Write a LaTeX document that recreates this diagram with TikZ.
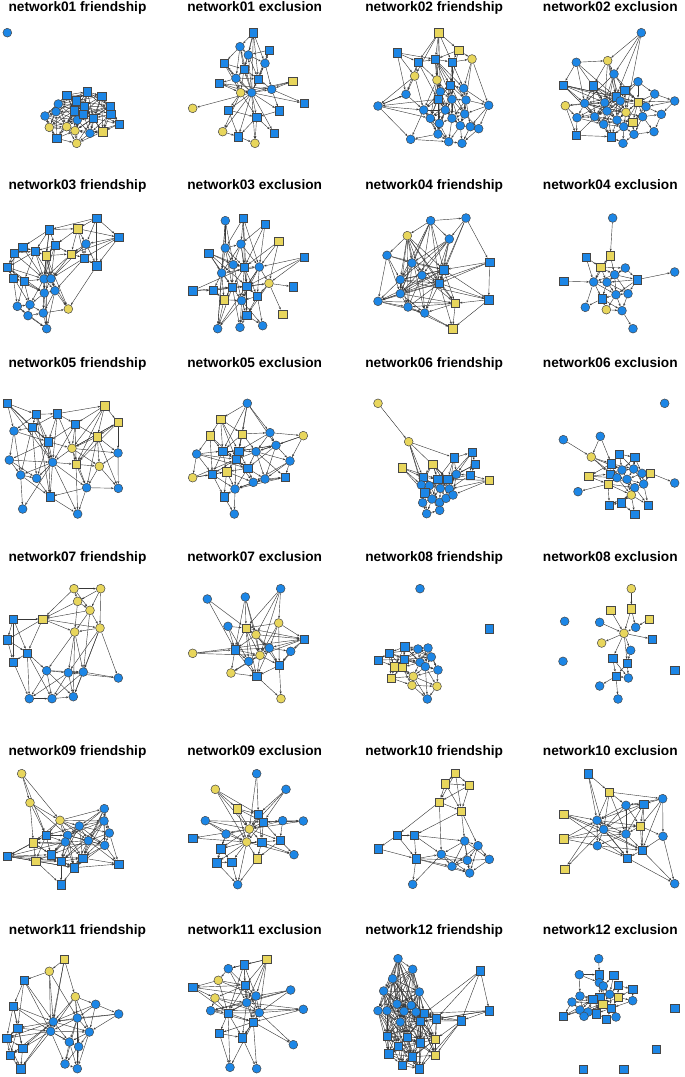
\documentclass[tikz,border=0pt]{standalone}
\usepackage{fontspec}
\setmainfont{Liberation Sans}
\usetikzlibrary{arrows.meta}
\definecolor{nblue}{RGB}{28,134,230}
\definecolor{nyel}{RGB}{232,214,92}
\definecolor{nbord}{RGB}{70,70,70}
\pgfdeclarelayer{bg}
\pgfsetlayers{bg,main}
\newcommand\netw[3]{%
  \foreach \px/\py/\ps [count=\i] in {#2}{\node[\ps] (#1-\i) at (\px,\py) {};}
  \begin{pgfonlayer}{bg}
  \foreach \a/\bl in {#3}{\foreach \b in \bl {\draw[lnk] (#1-\a) -- (#1-\b);}}
  \end{pgfonlayer}}
\tikzset{
  nd/.style={draw=nbord, line width=0.5pt, inner sep=0pt},
  bc/.style={nd, circle, fill=nblue, minimum size=8.8pt},
  yc/.style={nd, circle, fill=nyel, minimum size=8.8pt},
  bs/.style={nd, rectangle, fill=nblue, minimum size=8.2pt},
  ys/.style={nd, rectangle, fill=nyel, minimum size=8.2pt},
  lnk/.style={draw=black!78, line width=0.42pt, -{Stealth[length=2.6pt,width=2pt]}},
  ttl/.style={anchor=base, font=\fontsize{13.7}{16}\selectfont\bfseries, inner sep=0pt}
}
\begin{document}
\begin{tikzpicture}[x=1pt,y=-1pt]
\useasboundingbox (0,0) rectangle (685,1077);
% titles
\node[ttl] (t01f) at (77.5,11.3) {network01 friendship};
\node[ttl] (t01e) at (254.7,11.3) {network01 exclusion};
\node[ttl] (t02f) at (434.2,11.3) {network02 friendship};
\node[ttl] (t02e) at (610.3,11.3) {network02 exclusion};
\node[ttl] (t03f) at (77.5,189) {network03 friendship};
\node[ttl] (t03e) at (254.7,189) {network03 exclusion};
\node[ttl] (t04f) at (434.2,189) {network04 friendship};
\node[ttl] (t04e) at (610.3,189) {network04 exclusion};
\node[ttl] (t05f) at (77.5,367) {network05 friendship};
\node[ttl] (t05e) at (254.7,367) {network05 exclusion};
\node[ttl] (t06f) at (434.2,367) {network06 friendship};
\node[ttl] (t06e) at (610.3,367) {network06 exclusion};
\node[ttl] (t07f) at (77.5,561) {network07 friendship};
\node[ttl] (t07e) at (254.7,561) {network07 exclusion};
\node[ttl] (t08f) at (434.2,561) {network08 friendship};
\node[ttl] (t08e) at (610.3,561) {network08 exclusion};
\node[ttl] (t09f) at (77.5,755) {network09 friendship};
\node[ttl] (t09e) at (254.7,755) {network09 exclusion};
\node[ttl] (t10f) at (434.2,755) {network10 friendship};
\node[ttl] (t10e) at (610.3,755) {network10 exclusion};
\node[ttl] (t11f) at (77.5,934) {network11 friendship};
\node[ttl] (t11e) at (254.7,934) {network11 exclusion};
\node[ttl] (t12f) at (434.2,934) {network12 friendship};
\node[ttl] (t12e) at (610.3,934) {network12 exclusion};

% ===== row 1 =====
\begin{scope}[shift={(0,0)},x=0.33333pt,y=-0.33333pt]
\netw{A1}{22/98/bc, 200/285/bs, 262/275/bs, 305/288/bs, 228/302/bs, 252/320/bs, 222/332/bs, 330/318/bs, 332/342/bs, 280/355/bs, 358/372/bs, 170/415/bs, 308/395/ys, 175/312/bc, 168/335/bc, 135/348/bc, 232/360/bc, 250/342/bs, 270/400/bc, 148/382/yc, 200/380/yc, 225/392/yc, 230/430/yc}
{2/{3,5,14,7,6,4,10,17,18,15,16}, 3/{4,5,6,8,10,18,7,9,14,17}, 4/{6,8,9,10,11,5,13,18,19}, 5/{6,7,14,15,17,18,10,20,21,8}, 6/{7,8,10,17,18,9,13,11,14,21,22}, 7/{14,15,16,17,21,20,10,18,22,12}, 8/{9,10,11,13,17,18,22}, 9/{10,11,13,19}, 10/{11,13,17,18,19,22}, 11/{13,19}, 12/{20,21,22,16,15,23}, 13/{19,22,23}, 14/{15,16,20,17,18,21}, 15/{16,20,21,17}, 16/{20,21,17}, 17/{18,21,22,19}, 18/{19,22}, 19/{22,23}, 20/{21,17,22}, 21/{22,23}, 22/{23}, 23/{17,10}}
\netw{B1}{760/98/bs, 720/140/bc, 808/150/bs, 745/165/bc, 672/190/bs, 795/190/bc, 732/208/bs, 708/235/bc, 775/237/bs, 658/250/bs, 878/244/ys, 722/278/yc, 755/278/bc, 815/268/bc, 578/325/yc, 685/330/bs, 838/332/bs, 912/310/bs, 770/352/bs, 668/395/yc, 715/410/bs, 822/400/bs, 765/430/yc}
{13/{1,2,3,4,5,6,7,8,9,10,11,12,14,16,17,18,19,20,21,22,23,15}, 1/{2,4,6,9,7}, 2/{4,5,7,8}, 3/{4,6}, 4/{6,7,9}, 5/{7,8,12}, 6/{9,14}, 7/{8,9,12}, 8/{10,12,9}, 10/{12,14}, 11/{14,12}, 12/{16,19,20}, 14/{17,18,9}, 16/{19,21}, 19/{21,23,22}, 20/{21}, 21/{23}, 17/{19}}
\end{scope}
\begin{scope}[shift={(342,0)},x=0.33333pt,y=-0.33333pt]
\netw{C1}{290/98/ys, 165/158/bs, 350/150/ys, 228/186/bs, 280/178/bs, 330/186/bs, 390/177/yc, 218/228/yc, 285/240/yc, 325/256/bs, 365/265/bc, 295/275/bc, 192/283/bc, 288/298/bs, 330/298/bc, 372/300/bc, 108/318/bc, 440/316/bc, 245/330/bc, 310/330/bc, 368/342/bc, 265/355/bc, 330/355/bc, 292/370/bc, 385/380/bc, 410/386/bc, 355/377/bc, 288/402/bc, 206/418/bc, 320/425/bc, 360/430/bc}
{1/{4,5,6,3,9,8,12}, 2/{4,8,5,13}, 3/{5,6,7,10}, 4/{5,8,9,13,14}, 5/{6,9,10,12,14,15,11,16}, 6/{7,10,11,15}, 7/{11,18,16}, 8/{13,17,19}, 9/{12,14,19,20,15,22,24}, 10/{11,12,15,16,20,14,21,23}, 11/{16,18,21}, 12/{14,15,20,22,19,23,24}, 13/{17,19}, 14/{19,20,22,24,17,23,28}, 15/{16,20,21,23,22,24,27}, 16/{18,21,25,23,27}, 17/{19,22,29,13}, 18/{21,25,26}, 19/{22,28,29,24,20,30}, 20/{23,24,27,22,28,21}, 21/{23,27,26}, 22/{24,28}, 23/{24,27,30}, 24/{28,30}, 25/{26,27,31}, 26/{31}, 27/{31,30}, 28/{30,29}, 30/{31}, 29/{30}}
\netw{D1}{898/98/bc, 703/187/bc, 797/182/yc, 816/222/bc, 663/255/bs, 753/257/bs, 888/245/bc, 848/270/bs, 822/290/bs, 938/282/bc, 998/303/bc, 728/310/bc, 788/308/bc, 888/306/ys, 670/317/yc, 835/303/bc, 795/333/bc, 852/337/yc, 912/320/bc, 705/353/bc, 758/350/bc, 825/360/bc, 872/367/ys, 902/350/bc, 958/343/bc, 785/373/bc, 845/380/bc, 703/406/bs, 808/410/bs, 876/403/bc, 936/395/bc, 843/430/bc}
{1/{3,4,9,18}, 2/{3,12,5,13,16}, 3/{4,6,9,13,16}, 4/{9,13,8,17,12,14}, 5/{12,13,16,21,14,9}, 6/{9,13,12,17,16,21,18}, 7/{8,14,10,16}, 8/{9,14,16,18,19}, 9/{13,16,17,18,22,12,21,14}, 10/{11,14,19}, 11/{14,19,25}, 12/{13,15,20,21,18,24,26,17}, 13/{16,17,21,26,18,22,20}, 14/{16,18,19,23,24,22,27}, 15/{20,28,13}, 16/{17,18,22,21,26,19}, 17/{18,21,22,26,27,29,20}, 18/{22,23,27}, 19/{24,25,23}, 20/{21,28,26}, 21/{26,29,22,27}, 22/{26,27,29,23}, 23/{27,30,24}, 24/{25,31,30}, 25/{31}, 26/{29,27}, 27/{29,32,30}, 28/{29,9}, 29/{32}, 30/{32,31}}
\end{scope}

% ===== row 2 =====
\begin{scope}[shift={(0,178)},x=0.33333pt,y=-0.33333pt]
\netw{A2}{290/120/bs, 148/155/bs, 233/152/ys, 356/178/bs, 68/207/bs, 165/202/bs, 258/198/bc, 42/225/bs, 105/220/bs, 138/233/ys, 213/228/ys, 253/240/bs, 290/263/bs, 22/268/bs, 40/300/bs, 72/310/bs, 132/303/bc, 153/302/bc, 165/338/bc, 133/345/bc, 52/385/bc, 90/380/bc, 205/393/yc, 84/413/bc, 130/405/bc, 140/452/bc}
{1/{3,4,7,13,2}, 2/{3,5,6,9,10,17}, 3/{4,6,7,11,12}, 4/{7,13,12,11}, 5/{8,9,10,14,17}, 6/{9,10,11,17,18}, 7/{11,12,13,18}, 8/{9,14,15,17}, 9/{10,14,16,17,18}, 10/{11,17,18,19,20,23,26}, 11/{12,17,18}, 12/{13,18,19}, 13/{23}, 14/{15,16,17,22,20}, 15/{16,21,20}, 16/{17,20,22,21}, 17/{18,19,20,22,25}, 18/{19,20,23}, 19/{20,23,25,26}, 20/{22,25,26}, 21/{22,24,26}, 22/{24,25}, 24/{25,26}, 25/{26,23}}
\netw{B2}{676/128/bc, 730/120/bs, 795/138/bs, 836/190/ys, 676/210/bc, 723/198/bc, 626/225/bs, 912/238/bs, 700/260/bc, 733/268/bs, 778/267/bc, 665/285/bc, 807/316/yc, 880/326/bs, 578/338/bs, 640/337/bs, 697/327/bs, 740/325/bs, 672/365/ys, 772/355/bs, 725/368/bc, 740/412/bs, 848/408/ys, 653/452/bc, 720/448/bc, 788/443/bc}
{1/{5,9,12,24}, 2/{5,6,10,11,18}, 3/{6,11,10}, 4/{11,13,10}, 5/{6,9,10,12,17}, 6/{10,11,9,18,12}, 7/{9,12,17,18,10}, 8/{11,13,18}, 9/{10,12,17,21}, 10/{11,17,18,20,21}, 11/{13,18,20,21,12,24}, 12/{16,17,19,24}, 13/{14,18,20,23,22}, 15/{16,17,10}, 16/{17,19,18}, 17/{18,19,21,24,25}, 18/{20,21,22,25,13}, 19/{21,24}, 20/{21,22,26}, 21/{22,24,25,26}, 22/{25,26}}
\end{scope}
\begin{scope}[shift={(342,178)},x=0.33333pt,y=-0.33333pt]
\netw{C2}{266/128/bc, 372/120/bc, 196/173/yc, 322/183/bc, 135/232/bc, 210/255/bc, 443/252/bs, 305/275/bs, 240/292/bc, 175/305/bc, 292/316/bs, 175/347/bc, 108/370/bc, 440/365/bs, 340/376/ys, 198/387/bc, 248/405/bc, 332/452/ys}
{1/{2,3,4,6,8,9,10,11,12}, 2/{4,8,7,11}, 3/{5,6,8,9,10,11,12,16,17,15}, 4/{6,8,9,10,11,12,17}, 5/{6,8,10,13,12}, 6/{8,9,10,11,12,16}, 7/{8,11,14,13}, 8/{9,10,11,12,13,15,14}, 9/{10,11,12,16,17,15}, 10/{11,12,13,16,14}, 11/{12,13,15,16,17,18,14}, 12/{13,16,17,15}, 13/{16,17,15}, 14/{15,18}, 15/{16,17,18}, 16/{17,18}, 17/{18}}
\netw{D2}{812/120/bc, 805/233/ys, 732/238/bs, 776/268/ys, 850/270/bc, 818/290/bc, 885/305/bs, 998/282/bc, 665/310/bs, 755/312/bc, 795/313/bc, 822/350/bc, 858/347/bc, 780/362/bs, 730/388/bc, 793/395/yc, 840/398/bc, 873/452/bc}
{1/{2}, 2/{4,6,10}, 3/{10,4}, 4/{10,11,6,5}, 5/{6,7,11}, 6/{7,11,12,13,10}, 7/{8,13,12,11}, 9/{10}, 10/{11,14,15,12}, 11/{12,14,13}, 12/{13,14,17,16}, 13/{17}, 14/{15,16,17}, 16/{17}, 17/{18}}
\end{scope}

% ===== row 3 =====
\begin{scope}[shift={(0,355)},x=0.33333pt,y=-0.33333pt]
\netw{A3}{22/145/bs, 108/178/bs, 172/176/bs, 314/152/ys, 354/202/ys, 96/217/bs, 226/207/bs, 42/228/bc, 292/245/ys, 145/260/bs, 216/280/yc, 354/294/bc, 28/315/bc, 158/322/bc, 228/328/ys, 298/334/yc, 62/360/bc, 110/370/bc, 260/398/bc, 355/400/bc, 150/425/bs, 68/462/bc, 233/477/bc}
{1/{2,6,8,10,14}, 2/{3,6,10,8,14,21}, 3/{4,7,6,10,14,11}, 4/{5,9,7,11,15}, 5/{9,12,11,15}, 6/{8,10,14,17,18}, 7/{10,11,9,15,14}, 8/{13,10,17}, 9/{11,15,16,12,19,20}, 10/{11,14,13,18,21}, 11/{14,15,19,12,16,5}, 12/{16,20}, 13/{14,17,18}, 14/{15,17,18,19,21,22,23}, 15/{16,19,23}, 16/{19,20}, 17/{18,21,22}, 18/{21}, 19/{20,21,23}, 21/{23}}
\netw{B3}{742/145/bc, 662/192/ys, 630/242/ys, 727/237/ys, 810/233/bc, 910/242/yc, 590/297/bc, 668/288/bs, 716/288/bs, 768/290/bc, 828/271/bc, 708/313/bs, 870/318/bc, 743/340/bs, 578/368/yc, 637/358/bs, 680/350/ys, 760/382/bc, 795/372/bc, 855/367/bs, 705/402/bc, 672/425/bs, 703/477/bc}
{1/{2,4,8,9,11,5}, 2/{3,8,9,12,4}, 3/{7,8,12,16}, 4/{8,9,10,12,5}, 5/{6,11,10,9}, 6/{11,13,10}, 7/{8,12,16,15,14}, 8/{9,12,16,17,14}, 9/{10,12,14,11}, 10/{11,12,14,13,19,20}, 11/{13,14,19,9}, 12/{14,16,17,21,18}, 13/{20,19,18}, 14/{17,18,19,21}, 15/{16,17,12}, 16/{17,22,21}, 17/{21,22,18}, 18/{19,21,20}, 19/{20,21}, 20/{21}, 21/{22,23}, 22/{23}}
\end{scope}
\begin{scope}[shift={(342,355)},x=0.33333pt,y=-0.33333pt]
\netw{C3}{108/145/yc, 200/260/yc, 180/338/ys, 272/327/ys, 336/308/bs, 390/292/bs, 400/328/bs, 384/360/bs, 441/376/ys, 243/367/bs, 287/372/bs, 317/373/bs, 343/358/bc, 238/390/bc, 262/392/bc, 295/400/bc, 322/402/bc, 248/413/bs, 270/432/bc, 293/442/bc, 312/430/bc, 333/420/bc, 242/443/bc, 254/476/bc, 293/466/bc}
{1/{2}, 2/{5,10,14,18,12}, 3/{10,14,18,11}, 4/{10,11,12,14,16,17}, 5/{6,12,13,11,17}, 6/{7,8,13,12}, 7/{8,13,12}, 8/{13,12,9,17}, 9/{12,17,22}, 10/{11,14,15,18,16}, 11/{12,15,16,17,19}, 12/{13,16,17,21,22}, 13/{17,22}, 14/{15,18,23}, 15/{16,18,19,20}, 16/{17,19,20,21}, 17/{21,22}, 18/{19,23,24}, 19/{20,23,24,25}, 20/{21,25}, 21/{22,25}, 23/{24}, 24/{25}}
\netw{D3}{968/145/bc, 664/254/bc, 775/244/bc, 748/306/yc, 832/297/bs, 878/307/bs, 808/326/bs, 840/345/bc, 875/342/bc, 900/355/bc, 925/354/ys, 740/364/ys, 804/357/bs, 825/368/bc, 855/373/bc, 798/387/ys, 905/387/bc, 878/398/bc, 998/384/bc, 708/410/bc, 868/420/yc, 802/450/bs, 838/443/bs, 918/450/bs, 878/478/bs}
{2/{4}, 3/{4,7}, 4/{7,13,8,14}, 5/{7,8,9,6}, 6/{9,10,8}, 7/{8,13,14,9,12}, 8/{9,13,14,15}, 9/{10,15,17,6}, 10/{11,17,15}, 11/{17,19}, 12/{13,16,14}, 13/{14,16,15}, 14/{15,16,18,21}, 15/{17,18,21}, 16/{18,20,22,21}, 17/{18,24}, 18/{21,23,24}, 21/{22,23,25,24}, 22/{23}, 23/{25}}
\end{scope}

% ===== row 4 =====
\begin{scope}[shift={(0,548)},x=0.33333pt,y=-0.33333pt]
\netw{A4}{222/122/yc, 302/122/yc, 233/160/yc, 270/187/yc, 40/213/bs, 128/213/ys, 300/240/yc, 224/252/yc, 22/275/bs, 82/315/bs, 40/342/bs, 140/368/bc, 205/374/bc, 250/372/bc, 355/390/bc, 88/452/bc, 156/452/bc, 220/446/bc}
{1/{2,3,4,6}, 2/{3,4,7}, 3/{4,6,8}, 4/{7,8,6,14}, 5/{6,9,10,11}, 6/{8,10,9,7}, 7/{8,13,14,15,18}, 8/{12,13,14,18}, 9/{10,11}, 10/{11,12,16,17}, 11/{16}, 12/{13,14,16,17,18}, 13/{14,17,18,16}, 14/{15,17,18}, 15/{13}, 16/{17}, 17/{18}}
\netw{B4}{842/122/bc, 622/153/bc, 736/147/bc, 836/225/yc, 684/235/bc, 738/240/ys, 768/260/yc, 912/273/bs, 578/316/yc, 705/305/bs, 808/300/bc, 872/310/bc, 780/322/yc, 746/340/bc, 838/352/bs, 693/375/yc, 770/385/bs, 843/452/yc}
{1/{6,4,7,13}, 2/{6,10}, 3/{6,7,10,13}, 4/{8,6,11,15,13}, 5/{6,10,14}, 6/{7,10,11,13,14,17,8}, 7/{8,11,13,15,10}, 8/{11,12,15,13}, 9/{10,13,8}, 10/{13,14,16,17,11}, 11/{12,13,15,17}, 12/{15}, 13/{14,15,17,16}, 14/{16,17}, 15/{17,18}, 16/{17}, 17/{18}}
\end{scope}
\begin{scope}[shift={(342,548)},x=0.33333pt,y=-0.33333pt]
\netw{C4}{234/122/bc, 442/242/bs, 188/296/bs, 142/315/bs, 108/336/bs, 186/334/bs, 228/303/bc, 258/300/bc, 268/327/bc, 234/343/bc, 250/356/bc, 288/366/bc, 158/356/ys, 181/358/ys, 147/390/ys, 214/385/yc, 210/412/yc, 285/415/yc, 256/453/bc}
{3/{4,6,7,8,13,14,10,9,11}, 4/{5,6,13,14,15,7,10}, 5/{13,6}, 6/{7,9,10,13,14,11,8,12}, 7/{8,9,10,11}, 8/{9,10,12,11}, 9/{10,11,12}, 10/{11,14,16}, 11/{12,16,18,19}, 12/{18,16}, 13/{14,15,16}, 14/{15,16,17}, 15/{17,16}, 16/{17,18,19}, 17/{18,19}, 18/{19}}
\netw{D4}{868/122/yc, 668/220/bc, 806/187/ys, 868/182/ys, 922/213/ys, 773/223/bc, 881/238/bc, 846/256/yc, 931/273/bs, 779/285/yc, 866/307/bc, 663/340/bc, 812/330/bs, 856/346/bs, 998/367/bs, 822/384/bs, 859/390/bc, 773/414/bc, 828/453/bc}
{1/{4}, 3/{8}, 4/{8,7}, 5/{7}, 6/{8}, 7/{8}, 8/{9,10,11,13,14}, 11/{14}, 13/{16,17}, 14/{16,17}, 16/{17,18,19}}
\end{scope}

% ===== row 5 =====
\begin{scope}[shift={(0,742)},x=0.33333pt,y=-0.33333pt]
\netw{A5}{65/95/yc, 90/182/yc, 180/235/yc, 313/200/bc, 312/237/bc, 238/252/bc, 328/273/bc, 138/280/bs, 203/280/bc, 265/296/bc, 196/300/bc, 314/310/bc, 100/302/ys, 22/343/bs, 153/338/bs, 107/357/ys, 183/358/bs, 248/348/bs, 223/377/bs, 356/366/bs, 183/428/bs}
{1/{2,3,8}, 2/{3,8,13,9}, 3/{4,5,6,8,9,11,10,12,13}, 4/{5,6,7,10,12,18,11}, 5/{6,7,10,12,9,18,17}, 6/{7,9,10,11,12,18,15,17,8}, 7/{10,12,20,18}, 8/{9,11,13,14,15,16}, 9/{10,11,15,17,18,12,19}, 10/{11,12,17,18,19,20,15}, 11/{15,17,18,13,19,14}, 12/{18,20,19,13}, 13/{14,15,16,17}, 14/{15,16,17,19,18}, 15/{16,17,19}, 16/{17,19,21}, 17/{18,19,21}, 18/{19,20}, 19/{20,21}}
\netw{B5}{770/95/bc, 646/142/yc, 858/142/bc, 712/200/ys, 775/217/bs, 790/240/bs, 616/236/bc, 848/236/bc, 910/237/bc, 748/261/yc, 678/276/bc, 578/288/bs, 740/300/yc, 785/300/bs, 840/295/bs, 662/320/bs, 882/338/bc, 772/350/ys, 650/362/bs, 695/360/bs, 713/428/bc}
{1/{5,10}, 2/{4,10,5,13}, 3/{5,6,10}, 4/{5,10,13,6}, 5/{6,10,13,14}, 6/{8,9,10,14,13,15}, 7/{10,11,13,6}, 8/{9,10,15}, 9/{10,6}, 10/{11,13,14,15,16,12}, 11/{13,16,19}, 12/{13}, 13/{14,16,18,19,20,21,17}, 14/{15,18,17}, 15/{17,18}, 16/{19,20}, 18/{21}, 19/{21,20}, 20/{21}}
\end{scope}
\begin{scope}[shift={(342,742)},x=0.33333pt,y=-0.33333pt]
\netw{C5}{340/93/ys, 310/125/ys, 382/130/ys, 292/180/ys, 358/207/ys, 165/280/bs, 217/280/bs, 108/320/bs, 222/350/bs, 368/297/bc, 408/311/bc, 298/337/bc, 442/352/bc, 376/355/bc, 330/373/bc, 383/393/bc, 212/427/bc}
{1/{2,3,4,5}, 2/{3,4,5}, 3/{5,4}, 4/{5,6,12}, 5/{10,11,7}, 6/{7,8,9}, 7/{9,12,10}, 8/{9}, 9/{12,14,15,16,17}, 10/{11,12,14,15,13,16}, 11/{13,14,16,15}, 12/{14,15,17,16}, 13/{14,16}, 14/{15,16}, 15/{16}}
\netw{D5}{738/95/bs, 802/150/ys, 962/170/bc, 852/190/bc, 905/186/bs, 665/216/ys, 765/235/bc, 785/262/bc, 895/252/ys, 852/276/bc, 963/283/bc, 665/290/ys, 766/311/bc, 900/325/bs, 856/348/bs, 668/381/ys, 998/425/bc}
{1/{2,7,8}, 2/{3,4,7,8,10}, 3/{5,11,4,14,9}, 4/{5,7,8,10,9,15}, 5/{9,8,10,14,7}, 6/{7,8,14,15}, 7/{8,13,9,10,15,16}, 8/{9,10,13,14,15,16}, 9/{10,14,11}, 10/{14,15,13}, 11/{14,17}, 12/{7,13,8,10}, 13/{15,14}, 14/{15,17}, 15/{17}}
\end{scope}

% ===== row 6 =====
\begin{scope}[shift={(0,922)},x=0.33333pt,y=-0.33333pt]
\netw{A6}{193/112/ys, 148/148/yc, 72/175/bs, 226/224/yc, 40/252/bs, 287/247/bc, 356/276/bc, 232/288/bc, 160/299/bc, 53/318/bs, 152/328/bc, 268/330/bc, 20/348/bs, 68/378/bs, 208/360/bc, 236/374/bc, 30/400/bs, 195/426/bc, 62/440/bs, 232/440/bc}
{1/{2,4,9,11}, 2/{3,9,11,8}, 3/{5,9,10,11}, 4/{6,8,9,11,12,16}, 5/{10,13,9,11,14}, 6/{7,8,12,9}, 7/{8,12,9}, 8/{9,11,12,15,16,18,20}, 9/{10,11,12,13,14,15,17,19}, 10/{13,14,17,11}, 11/{12,13,14,15,16,18,19}, 12/{15,16,20}, 13/{14,17,19}, 14/{17,19}, 15/{16,18,20}, 16/{18,20}, 17/{19}, 18/{20}}
\netw{B6}{800/112/ys, 732/128/bs, 685/140/bc, 655/175/yc, 735/190/bs, 578/196/bs, 872/204/bc, 645/228/yc, 768/222/bc, 740/242/bc, 632/266/bc, 684/273/bs, 778/272/bc, 910/262/bc, 760/300/bs, 658/334/bs, 727/347/bs, 880/368/bc, 690/436/bc, 770/440/bc}
{1/{2,3,5,9,10,13}, 2/{3,5,9,10,12}, 3/{5,10,4}, 4/{6,5,9,12}, 5/{6,8,9,10,12,13,15}, 6/{8,9,12}, 7/{9,10,13,11}, 8/{10,11,12,13}, 9/{10,12,13,15}, 10/{11,12,13,15,17}, 11/{12,15,14}, 12/{13,15,16,17,19}, 13/{14,15,17,18}, 14/{15,10}, 15/{16,17,18,20,19}, 16/{17,19}, 17/{20}}
\end{scope}
\begin{scope}[shift={(342,922)},x=0.33333pt,y=-0.33333pt]
\netw{C6}{168/110/bc, 212/142/bc, 152/170/bc, 125/207/bc, 232/210/bc, 108/266/bc, 135/266/bc, 165/246/bc, 186/268/bc, 208/250/bc, 222/270/bc, 247/274/bs, 175/300/bc, 235/298/bs, 283/290/bs, 415/146/bs, 442/266/bs, 358/296/bs, 135/343/bs, 195/345/bs, 235/362/bs, 280/352/ys, 168/372/bs, 140/395/bs, 210/404/bs, 280/400/ys, 180/430/bs, 232/440/bs}
{1/{2,3,4,5,8,9,10,13,14,6,7,11,20}, 2/{3,5,8,10,11,9,12,14,4,6,7,13}, 3/{4,5,6,7,8,9,10,20,11,12,13,14,19}, 4/{5,6,7,8,9,13,19,10,11,14,20,23}, 5/{8,9,10,11,12,14,7,13,15,20,21}, 6/{7,8,13,19,23,24,9,10,20,25}, 7/{8,9,13,19,20,10,11,14,23,24,25}, 8/{9,10,13,14,20,11,12,19,21,23}, 9/{10,11,13,14,20,21,12,15,19,22,25}, 10/{11,12,14,21,13,15,20,22}, 11/{12,14,15,22,13,20,21,26}, 12/{14,15,21,22,20,26,28}, 13/{14,19,20,23,21,22,24,25,27}, 14/{15,20,21,22,25,19,23,26,28}, 15/{22,21,26}, 16/{17,18,12,15}, 17/{18,15,12,14}, 18/{15,14,12,22,26,28}, 19/{20,23,24,25,21,27}, 20/{21,23,25,27,28,22,24,26}, 21/{22,25,26,28,23,24,27}, 22/{26,28,25,27}, 23/{24,25,27,28}, 24/{27,25,28}, 25/{27,28,26}, 27/{28}}
\netw{D6}{770/110/bc, 712/158/bc, 772/158/bs, 815/160/bs, 772/182/bc, 828/190/bs, 784/192/bc, 872/202/bs, 714/222/bc, 773/225/bs, 803/217/bc, 828/226/ys, 690/240/bc, 752/232/bs, 782/246/ys, 808/258/bs, 872/236/bc, 714/264/bc, 738/270/bc, 664/283/bs, 726/283/bc, 762/275/bs, 793/291/bs, 822/285/bc, 998/258/bs, 942/382/bs, 724/442/bs, 845/442/bs}
{1/{3}, 2/{3,5,9}, 3/{5,7}, 4/{7,11}, 5/{7,10,11}, 6/{11,12,8}, 7/{10,11,15}, 8/{12,17}, 9/{13,10,14,21}, 10/{11,14,15,16,22}, 11/{12,15,16}, 12/{16,17,15}, 13/{14,18,20,15}, 14/{15,18,19,21}, 15/{16,22,19,21}, 16/{22,23,24}, 17/{16}, 18/{19,20,21}, 19/{21,22}, 20/{14,15}, 21/{22}, 22/{23}, 23/{24}}
\end{scope}
\end{tikzpicture}
\end{document}
